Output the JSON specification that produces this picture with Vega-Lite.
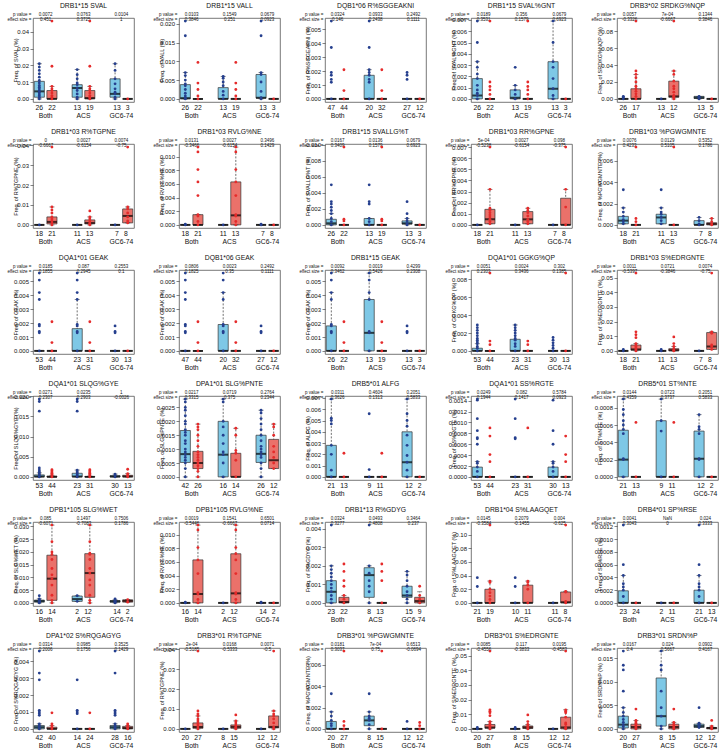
{
"$schema":"https://vega.github.io/schema/vega-lite/v6.json",
"padding":{"left":6,"top":2,"right":2,"bottom":2},
"background":"white",
"datasets":{
"g":[
{"k":11,"i":1,"t":"DRB1*15 SVAL","x":"1|Both|26|22|0.0072|0.451"},{"k":12,"i":1,"t":"DRB1*15 SVAL","x":"2|ACS|13|19|0.0763|0.3725"},{"k":13,"i":1,"t":"DRB1*15 SVAL","x":"3|GC6-74|13|3|0.0104|1"},
{"k":21,"i":2,"t":"DRB1*15 VALL","x":"1|Both|26|22|0.0103|0.3846"},{"k":22,"i":2,"t":"DRB1*15 VALL","x":"2|ACS|13|19|0.1549|0.251"},{"k":23,"i":2,"t":"DRB1*15 VALL","x":"3|GC6-74|13|3|0.0679|0.0923"},
{"k":31,"i":3,"t":"DQB1*06 R%SGGEAKNI","x":"1|Both|47|44|0.0324|0.146"},{"k":32,"i":3,"t":"DQB1*06 R%SGGEAKNI","x":"2|ACS|20|32|0.0933|0.2438"},{"k":33,"i":3,"t":"DQB1*06 R%SGGEAKNI","x":"3|GC6-74|27|12|0.2492|0.1111"},
{"k":41,"i":4,"t":"DRB1*15 SVAL%GNT","x":"1|Both|26|22|0.0189|0.3531"},{"k":42,"i":4,"t":"DRB1*15 SVAL%GNT","x":"2|ACS|13|19|0.356|0.1579"},{"k":43,"i":4,"t":"DRB1*15 SVAL%GNT","x":"3|GC6-74|13|3|0.0679|0.6923"},
{"k":51,"i":5,"t":"DRB3*02 SRDKG%NQP","x":"1|Both|26|17|0.0057|-0.3326"},{"k":52,"i":5,"t":"DRB3*02 SRDKG%NQP","x":"2|ACS|13|12|7e-04|-0.6667"},{"k":53,"i":5,"t":"DRB3*02 SRDKG%NQP","x":"3|GC6-74|13|5|0.1344|0.3846"},
{"k":61,"i":6,"t":"DRB1*03 R%TGPNE","x":"1|Both|18|21|0|-0.6667"},{"k":62,"i":6,"t":"DRB1*03 R%TGPNE","x":"2|ACS|11|13|0.0027|-0.6154"},{"k":63,"i":6,"t":"DRB1*03 R%TGPNE","x":"3|GC6-74|7|8|0.0074|-0.75"},
{"k":71,"i":7,"t":"DRB1*03 RVLG%NE","x":"1|Both|18|21|0.0131|-0.3466"},{"k":72,"i":7,"t":"DRB1*03 RVLG%NE","x":"2|ACS|11|13|0.0027|-0.6154"},{"k":73,"i":7,"t":"DRB1*03 RVLG%NE","x":"3|GC6-74|7|8|0.3496|0.1429"},
{"k":81,"i":8,"t":"DRB1*15 SVALLG%T","x":"1|Both|26|22|0.0167|0.3409"},{"k":82,"i":8,"t":"DRB1*15 SVALLG%T","x":"2|ACS|13|19|0.0136|0.1579"},{"k":83,"i":8,"t":"DRB1*15 SVALLG%T","x":"3|GC6-74|13|3|0.0679|0.6923"},
{"k":91,"i":9,"t":"DRB1*03 RR%GPNE","x":"1|Both|18|21|5e-04|-0.5238"},{"k":92,"i":9,"t":"DRB1*03 RR%GPNE","x":"2|ACS|11|13|0.0027|-0.6154"},{"k":93,"i":9,"t":"DRB1*03 RR%GPNE","x":"3|GC6-74|7|8|0.098|-0.375"},
{"k":101,"i":10,"t":"DRB1*03 %PGWGMNTE","x":"1|Both|18|21|0.0076|0.4233"},{"k":102,"i":10,"t":"DRB1*03 %PGWGMNTE","x":"2|ACS|11|13|0.0129|0.5105"},{"k":103,"i":10,"t":"DRB1*03 %PGWGMNTE","x":"3|GC6-74|7|8|0.5352|0.1786"},
{"k":111,"i":11,"t":"DQA1*01 GEAK","x":"1|Both|53|44|0.0185|0.1855"},{"k":112,"i":11,"t":"DQA1*01 GEAK","x":"2|ACS|23|31|0.087|0.2945"},{"k":113,"i":11,"t":"DQA1*01 GEAK","x":"3|GC6-74|30|13|0.2553|0.1"},
{"k":121,"i":12,"t":"DQB1*06 GEAK","x":"1|Both|47|44|0.0806|0.1825"},{"k":122,"i":12,"t":"DQB1*06 GEAK","x":"2|ACS|20|32|0.0023|0.35"},{"k":123,"i":12,"t":"DQB1*06 GEAK","x":"3|GC6-74|27|12|0.2492|0.1111"},
{"k":131,"i":13,"t":"DRB1*15 GEAK","x":"1|Both|26|22|0.0092|0.3462"},{"k":132,"i":13,"t":"DRB1*15 GEAK","x":"2|ACS|13|19|0.0019|0.5426"},{"k":133,"i":13,"t":"DRB1*15 GEAK","x":"3|GC6-74|13|3|0.4299|0.2308"},
{"k":141,"i":14,"t":"DQA1*01 GGKG%QP","x":"1|Both|53|44|0.0051|0.2303"},{"k":142,"i":14,"t":"DQA1*01 GGKG%QP","x":"2|ACS|23|31|0.0024|0.3436"},{"k":143,"i":14,"t":"DQA1*01 GGKG%QP","x":"3|GC6-74|30|13|0.302|0.1385"},
{"k":151,"i":15,"t":"DRB1*03 S%EDRGNTE","x":"1|Both|18|21|0.0011|-0.5397"},{"k":152,"i":15,"t":"DRB1*03 S%EDRGNTE","x":"2|ACS|11|13|0.0721|-0.3846"},{"k":153,"i":15,"t":"DRB1*03 S%EDRGNTE","x":"3|GC6-74|7|8|0.0074|-0.75"},
{"k":161,"i":16,"t":"DQA1*01 SLQG%GYE","x":"1|Both|53|44|0.0271|0.2307"},{"k":162,"i":16,"t":"DQA1*01 SLQG%GYE","x":"2|ACS|23|31|0.0235|0.2903"},{"k":163,"i":16,"t":"DQA1*01 SLQG%GYE","x":"3|GC6-74|30|13|1|-0.0026"},
{"k":171,"i":17,"t":"DPA1*01 SLG%PNTE","x":"1|Both|42|26|0.0217|0.3315"},{"k":172,"i":17,"t":"DPA1*01 SLG%PNTE","x":"2|ACS|16|14|0.0719|0.375"},{"k":173,"i":17,"t":"DPA1*01 SLG%PNTE","x":"3|GC6-74|26|12|0.2764|0.2344"},
{"k":181,"i":18,"t":"DRB5*01 ALFG","x":"1|Both|21|13|0.0311|0.3626"},{"k":182,"i":18,"t":"DRB5*01 ALFG","x":"2|ACS|9|11|0.4604|0.1313"},{"k":183,"i":18,"t":"DRB5*01 ALFG","x":"3|GC6-74|12|2|0.2051|0.5833"},
{"k":191,"i":19,"t":"DQA1*01 SS%RGTE","x":"1|Both|53|44|0.0249|0.1944"},{"k":192,"i":19,"t":"DQA1*01 SS%RGTE","x":"2|ACS|23|31|0.082|0.1417"},{"k":193,"i":19,"t":"DQA1*01 SS%RGTE","x":"3|GC6-74|30|13|0.5784|0.0923"},
{"k":201,"i":20,"t":"DRB5*01 ST%NTE","x":"1|Both|21|13|0.0144|0.4359"},{"k":202,"i":20,"t":"DRB5*01 ST%NTE","x":"2|ACS|9|11|0.0723|0.3737"},{"k":203,"i":20,"t":"DRB5*01 ST%NTE","x":"3|GC6-74|12|2|0.2051|0.5833"},
{"k":211,"i":21,"t":"DPB1*105 SLG%WET","x":"1|Both|16|14|0.085|-0.6071"},{"k":212,"i":21,"t":"DPB1*105 SLG%WET","x":"2|ACS|2|12|0.1497|-0.7083"},{"k":213,"i":21,"t":"DPB1*105 SLG%WET","x":"3|GC6-74|14|2|0.7506|0.1786"},
{"k":221,"i":22,"t":"DPB1*105 RVLG%NE","x":"1|Both|16|14|0.0019|-0.5446"},{"k":222,"i":22,"t":"DPB1*105 RVLG%NE","x":"2|ACS|2|12|0.1541|-0.6667"},{"k":223,"i":22,"t":"DPB1*105 RVLG%NE","x":"3|GC6-74|14|2|0.6501|0.0714"},
{"k":231,"i":23,"t":"DRB1*13 R%GDYG","x":"1|Both|23|22|0.0324|0.3277"},{"k":232,"i":23,"t":"DRB1*13 R%GDYG","x":"2|ACS|8|13|0.0493|0.4808"},{"k":233,"i":23,"t":"DRB1*13 R%GDYG","x":"3|GC6-74|15|9|0.3464|0.237"},
{"k":241,"i":24,"t":"DRB1*04 S%LAAGQET","x":"1|Both|21|19|0.0145|-0.3584"},{"k":242,"i":24,"t":"DRB1*04 S%LAAGQET","x":"2|ACS|10|11|0.2079|-0.1455"},{"k":243,"i":24,"t":"DRB1*04 S%LAAGQET","x":"3|GC6-74|11|8|0.004|-0.625"},
{"k":251,"i":25,"t":"DRB4*01 SP%RSE","x":"1|Both|23|24|0.0041|0.3043"},{"k":252,"i":25,"t":"DRB4*01 SP%RSE","x":"2|ACS|2|11|NaN|0"},{"k":253,"i":25,"t":"DRB4*01 SP%RSE","x":"3|GC6-74|21|13|0.024|0.3333"},
{"k":261,"i":26,"t":"DPA1*02 S%RQGAGYG","x":"1|Both|42|40|0.0314|0.2006"},{"k":262,"i":26,"t":"DPA1*02 S%RQGAGYG","x":"2|ACS|14|24|0.0985|0.1756"},{"k":263,"i":26,"t":"DPA1*02 S%RQGAGYG","x":"3|GC6-74|28|16|0.3525|0.1429"},
{"k":271,"i":27,"t":"DRB3*01 R%TGPNE","x":"1|Both|20|27|2e-04|-0.5185"},{"k":272,"i":27,"t":"DRB3*01 R%TGPNE","x":"2|ACS|8|15|0.0168|-0.5333"},{"k":273,"i":27,"t":"DRB3*01 R%TGPNE","x":"3|GC6-74|12|12|0.0071|-0.5"},
{"k":281,"i":28,"t":"DRB3*01 %PGWGMNTE","x":"1|Both|20|27|0.0181|0.3037"},{"k":282,"i":28,"t":"DRB3*01 %PGWGMNTE","x":"2|ACS|8|15|7e-04|0.75"},{"k":283,"i":28,"t":"DRB3*01 %PGWGMNTE","x":"3|GC6-74|12|12|0.6513|-0.0694"},
{"k":291,"i":29,"t":"DRB3*01 S%EDRGNTE","x":"1|Both|20|27|0.0085|-0.4556"},{"k":292,"i":29,"t":"DRB3*01 S%EDRGNTE","x":"2|ACS|8|15|0.117|-0.3833"},{"k":293,"i":29,"t":"DRB3*01 S%EDRGNTE","x":"3|GC6-74|12|12|0.0195|-0.4583"},
{"k":301,"i":30,"t":"DRB3*01 SRDN%P","x":"1|Both|20|27|0.0167|0.4"},{"k":302,"i":30,"t":"DRB3*01 SRDN%P","x":"2|ACS|8|15|0.024|0.5667"},{"k":303,"i":30,"t":"DRB3*01 SRDN%P","x":"3|GC6-74|12|12|0.0902|0.4167"}
],
"d":[
{"k":11,"c":"B","lo":0,"q1":0.001,"m":0.0045,"q3":0.0105,"hi":0.021},{"k":11,"c":"R","lo":0,"q1":0,"m":0,"q3":0.005,"hi":0.0075},
{"k":12,"c":"B","lo":0,"q1":0.001,"m":0.0065,"q3":0.0085,"hi":0.0175},{"k":12,"c":"R","lo":0,"q1":0,"m":0.0005,"q3":0.005,"hi":0.0075},
{"k":13,"c":"B","lo":0,"q1":0.001,"m":0.003,"q3":0.012,"hi":0.021},{"k":13,"c":"R","lo":0,"q1":0,"m":0,"q3":0,"hi":0},
{"k":21,"c":"B","lo":0,"q1":0,"m":0.0002,"q3":0.0038,"hi":0.007},{"k":21,"c":"R","lo":0,"q1":0,"m":0,"q3":0,"hi":0},
{"k":22,"c":"B","lo":0,"q1":0,"m":0,"q3":0.003,"hi":0.006},{"k":22,"c":"R","lo":0,"q1":0,"m":0,"q3":0,"hi":0},
{"k":23,"c":"B","lo":0,"q1":0.0002,"m":0.0003,"q3":0.0065,"hi":0.007},{"k":23,"c":"R","lo":0,"q1":0,"m":0,"q3":0,"hi":0},
{"k":31,"c":"B","lo":0,"q1":0,"m":0,"q3":0,"hi":0},{"k":31,"c":"R","lo":0,"q1":0,"m":0,"q3":0,"hi":0},
{"k":32,"c":"B","lo":0,"q1":0,"m":0,"q3":0.0017,"hi":0.0021},{"k":32,"c":"R","lo":0,"q1":0,"m":0,"q3":0,"hi":0},
{"k":33,"c":"B","lo":0,"q1":0,"m":0,"q3":0,"hi":0},{"k":33,"c":"R","lo":0,"q1":0,"m":0,"q3":0,"hi":0},
{"k":41,"c":"B","lo":0,"q1":0,"m":0.0003,"q3":0.0018,"hi":0.0033},{"k":41,"c":"R","lo":0,"q1":0,"m":0,"q3":0,"hi":0},
{"k":42,"c":"B","lo":0,"q1":0,"m":0.0001,"q3":0.0008,"hi":0.0012},{"k":42,"c":"R","lo":0,"q1":0,"m":0,"q3":0,"hi":0},
{"k":43,"c":"B","lo":0,"q1":0,"m":0.0009,"q3":0.0033,"hi":0.0069},{"k":43,"c":"R","lo":0,"q1":0,"m":0,"q3":0,"hi":0},
{"k":51,"c":"B","lo":0,"q1":0,"m":0,"q3":0,"hi":0},{"k":51,"c":"R","lo":0,"q1":0,"m":0,"q3":0.012,"hi":0.029},
{"k":52,"c":"B","lo":0,"q1":0,"m":0,"q3":0,"hi":0},{"k":52,"c":"R","lo":0,"q1":0.002,"m":0.003,"q3":0.021,"hi":0.033},
{"k":53,"c":"B","lo":0,"q1":0.0005,"m":0.0015,"q3":0.003,"hi":0.003},{"k":53,"c":"R","lo":0,"q1":0,"m":0,"q3":0,"hi":0},
{"k":61,"c":"B","lo":0,"q1":0,"m":0,"q3":0,"hi":0},{"k":61,"c":"R","lo":0,"q1":0.0005,"m":0.0015,"q3":0.004,"hi":0.009},
{"k":62,"c":"B","lo":0,"q1":0,"m":0,"q3":0,"hi":0},{"k":62,"c":"R","lo":0,"q1":0.0005,"m":0.001,"q3":0.0025,"hi":0.004},
{"k":63,"c":"B","lo":0,"q1":0,"m":0,"q3":0,"hi":0},{"k":63,"c":"R","lo":0.001,"q1":0.001,"m":0.0045,"q3":0.008,"hi":0.009},
{"k":71,"c":"B","lo":0,"q1":0,"m":0,"q3":0,"hi":0},{"k":71,"c":"R","lo":0,"q1":0,"m":0,"q3":0.0015,"hi":0.0015},
{"k":72,"c":"B","lo":0,"q1":0,"m":0,"q3":0,"hi":0},{"k":72,"c":"R","lo":0,"q1":0,"m":0.0014,"q3":0.0063,"hi":0.0114},
{"k":73,"c":"B","lo":0,"q1":0,"m":0,"q3":0,"hi":0},{"k":73,"c":"R","lo":0,"q1":0,"m":0,"q3":0,"hi":0},
{"k":81,"c":"B","lo":0,"q1":0,"m":0.0002,"q3":0.0007,"hi":0.0014},{"k":81,"c":"R","lo":0,"q1":0,"m":0,"q3":0,"hi":0},
{"k":82,"c":"B","lo":0,"q1":0,"m":0,"q3":0.0008,"hi":0.0008},{"k":82,"c":"R","lo":0,"q1":0,"m":0,"q3":0,"hi":0},
{"k":83,"c":"B","lo":0,"q1":0.0001,"m":0.0002,"q3":0.0005,"hi":0.0008},{"k":83,"c":"R","lo":0,"q1":0,"m":0,"q3":0,"hi":0},
{"k":91,"c":"B","lo":0,"q1":0,"m":0,"q3":0,"hi":0},{"k":91,"c":"R","lo":0.0001,"q1":0.0001,"m":0.0005,"q3":0.0014,"hi":0.0032},
{"k":92,"c":"B","lo":0,"q1":0,"m":0,"q3":0,"hi":0},{"k":92,"c":"R","lo":0.0001,"q1":0.0001,"m":0.0005,"q3":0.0012,"hi":0.0015},
{"k":93,"c":"B","lo":0,"q1":0,"m":0,"q3":0,"hi":0},{"k":93,"c":"R","lo":0,"q1":0,"m":0,"q3":0.0024,"hi":0.0032},
{"k":101,"c":"B","lo":0.0001,"q1":0.0001,"m":0.0004,"q3":0.0008,"hi":0.0016},{"k":101,"c":"R","lo":0,"q1":0,"m":0,"q3":0,"hi":0},
{"k":102,"c":"B","lo":0.0001,"q1":0.0001,"m":0.0007,"q3":0.001,"hi":0.0016},{"k":102,"c":"R","lo":0,"q1":0,"m":0,"q3":0,"hi":0},
{"k":103,"c":"B","lo":0,"q1":0,"m":0,"q3":0.0004,"hi":0.0007},{"k":103,"c":"R","lo":0,"q1":0,"m":0.0001,"q3":0.0002,"hi":0.0006},
{"k":111,"c":"B","lo":0,"q1":0,"m":0,"q3":0,"hi":0},{"k":111,"c":"R","lo":0,"q1":0,"m":0,"q3":0,"hi":0},
{"k":112,"c":"B","lo":0,"q1":0,"m":0,"q3":0.0016,"hi":0.0037},{"k":112,"c":"R","lo":0,"q1":0,"m":0,"q3":0,"hi":0},
{"k":113,"c":"B","lo":0,"q1":0,"m":0,"q3":0,"hi":0},{"k":113,"c":"R","lo":0,"q1":0,"m":0,"q3":0,"hi":0},
{"k":121,"c":"B","lo":0,"q1":0,"m":0,"q3":0,"hi":0},{"k":121,"c":"R","lo":0,"q1":0,"m":0,"q3":0,"hi":0},
{"k":122,"c":"B","lo":0,"q1":0,"m":0,"q3":0.0019,"hi":0.0042},{"k":122,"c":"R","lo":0,"q1":0,"m":0,"q3":0,"hi":0},
{"k":123,"c":"B","lo":0,"q1":0,"m":0,"q3":0,"hi":0},{"k":123,"c":"R","lo":0,"q1":0,"m":0,"q3":0,"hi":0},
{"k":131,"c":"B","lo":0,"q1":0,"m":0,"q3":0.0018,"hi":0.0042},{"k":131,"c":"R","lo":0,"q1":0,"m":0,"q3":0,"hi":0},
{"k":132,"c":"B","lo":0,"q1":0,"m":0.0013,"q3":0.0037,"hi":0.0056},{"k":132,"c":"R","lo":0,"q1":0,"m":0,"q3":0,"hi":0},
{"k":133,"c":"B","lo":0,"q1":0,"m":0,"q3":0,"hi":0},{"k":133,"c":"R","lo":0,"q1":0,"m":0,"q3":0,"hi":0},
{"k":141,"c":"B","lo":0,"q1":0,"m":0,"q3":0.0003,"hi":0.0008},{"k":141,"c":"R","lo":0,"q1":0,"m":0,"q3":0,"hi":0},
{"k":142,"c":"B","lo":0,"q1":0,"m":0,"q3":0.0013,"hi":0.0029},{"k":142,"c":"R","lo":0,"q1":0,"m":0,"q3":0,"hi":0},
{"k":143,"c":"B","lo":0,"q1":0,"m":0,"q3":0,"hi":0},{"k":143,"c":"R","lo":0,"q1":0,"m":0,"q3":0,"hi":0},
{"k":151,"c":"B","lo":0,"q1":0,"m":0,"q3":0,"hi":0},{"k":151,"c":"R","lo":0,"q1":0.0005,"m":0.001,"q3":0.004,"hi":0.005},
{"k":152,"c":"B","lo":0,"q1":0,"m":0,"q3":0,"hi":0},{"k":152,"c":"R","lo":0,"q1":0,"m":0.0005,"q3":0.0015,"hi":0.003},
{"k":153,"c":"B","lo":0,"q1":0,"m":0,"q3":0,"hi":0},{"k":153,"c":"R","lo":0.001,"q1":0.001,"m":0.003,"q3":0.0125,"hi":0.013},
{"k":161,"c":"B","lo":0,"q1":0,"m":0.0001,"q3":0.0005,"hi":0.001},{"k":161,"c":"R","lo":0,"q1":0,"m":0,"q3":0.0002,"hi":0.0004},
{"k":162,"c":"B","lo":0,"q1":0,"m":0.0001,"q3":0.0009,"hi":0.0017},{"k":162,"c":"R","lo":0,"q1":0,"m":0,"q3":0.0001,"hi":0.0002},
{"k":163,"c":"B","lo":0,"q1":0,"m":0.0001,"q3":0.0003,"hi":0.0007},{"k":163,"c":"R","lo":0,"q1":0,"m":0.0001,"q3":0.0004,"hi":0.0008},
{"k":171,"c":"B","lo":0,"q1":0.00052,"m":0.00082,"q3":0.00167,"hi":0.0028},{"k":171,"c":"R","lo":0,"q1":0.0003,"m":0.0005,"q3":0.00092,"hi":0.0019},
{"k":172,"c":"B","lo":0,"q1":0,"m":0.0008,"q3":0.002,"hi":0.0028},{"k":172,"c":"R","lo":0,"q1":0,"m":0,"q3":0.00085,"hi":0.00175},
{"k":173,"c":"B","lo":0,"q1":0.00052,"m":0.00083,"q3":0.0015,"hi":0.0024},{"k":173,"c":"R","lo":0.0003,"q1":0.0003,"m":0.0006,"q3":0.00135,"hi":0.0019},
{"k":181,"c":"B","lo":0,"q1":0,"m":0,"q3":0.0028,"hi":0.0069},{"k":181,"c":"R","lo":0,"q1":0,"m":0,"q3":0,"hi":0},
{"k":182,"c":"B","lo":0,"q1":0,"m":0,"q3":0,"hi":0},{"k":182,"c":"R","lo":0,"q1":0,"m":0,"q3":0,"hi":0},
{"k":183,"c":"B","lo":0,"q1":0,"m":0.0013,"q3":0.004,"hi":0.0069},{"k":183,"c":"R","lo":0,"q1":0,"m":0,"q3":0,"hi":0},
{"k":191,"c":"B","lo":0,"q1":0,"m":0,"q3":0.00018,"hi":0.00028},{"k":191,"c":"R","lo":0,"q1":0,"m":0,"q3":0,"hi":0},
{"k":192,"c":"B","lo":0,"q1":0,"m":0,"q3":0,"hi":0},{"k":192,"c":"R","lo":0,"q1":0,"m":0,"q3":0,"hi":0},
{"k":193,"c":"B","lo":0,"q1":0,"m":0,"q3":0.00018,"hi":0.00028},{"k":193,"c":"R","lo":0,"q1":0,"m":0,"q3":0,"hi":0},
{"k":201,"c":"B","lo":0,"q1":0,"m":0.0002,"q3":0.00054,"hi":0.0009},{"k":201,"c":"R","lo":0,"q1":0,"m":0,"q3":0,"hi":0},
{"k":202,"c":"B","lo":0,"q1":0,"m":0,"q3":0.00065,"hi":0.0009},{"k":202,"c":"R","lo":0,"q1":0,"m":0,"q3":0,"hi":0},
{"k":203,"c":"B","lo":0,"q1":0,"m":0.00021,"q3":0.00053,"hi":0.00072},{"k":203,"c":"R","lo":0,"q1":0,"m":0,"q3":0,"hi":0},
{"k":211,"c":"B","lo":0,"q1":0.0003,"m":0.0007,"q3":0.0011,"hi":0.0016},{"k":211,"c":"R","lo":0,"q1":0.001,"m":0.0095,"q3":0.0187,"hi":0.0305},
{"k":212,"c":"B","lo":0.0006,"q1":0.0006,"m":0.0015,"q3":0.0027,"hi":0.0028},{"k":212,"c":"R","lo":0,"q1":0.0022,"m":0.0117,"q3":0.0193,"hi":0.0305},
{"k":213,"c":"B","lo":0,"q1":0.0003,"m":0.0006,"q3":0.0009,"hi":0.0012},{"k":213,"c":"R","lo":0.0003,"q1":0.0003,"m":0.0008,"q3":0.0012,"hi":0.0013},
{"k":221,"c":"B","lo":0,"q1":0,"m":0,"q3":0,"hi":0},{"k":221,"c":"R","lo":0,"q1":0,"m":0.0013,"q3":0.0063,"hi":0.0114},
{"k":222,"c":"B","lo":0,"q1":0,"m":0,"q3":0,"hi":0},{"k":222,"c":"R","lo":0,"q1":0,"m":0.0014,"q3":0.0072,"hi":0.0114},
{"k":223,"c":"B","lo":0,"q1":0,"m":0,"q3":0,"hi":0},{"k":223,"c":"R","lo":0,"q1":0,"m":0,"q3":0,"hi":0},
{"k":231,"c":"B","lo":0,"q1":0,"m":0.0006,"q3":0.0012,"hi":0.002},{"k":231,"c":"R","lo":0,"q1":0,"m":0.00005,"q3":0.0003,"hi":0.0004},
{"k":232,"c":"B","lo":0,"q1":0.0003,"m":0.0015,"q3":0.0019,"hi":0.002},{"k":232,"c":"R","lo":0,"q1":0,"m":0,"q3":0,"hi":0},
{"k":233,"c":"B","lo":0,"q1":0.0003,"m":0.0004,"q3":0.0009,"hi":0.0017},{"k":233,"c":"R","lo":0,"q1":0,"m":0.0001,"q3":0.0003,"hi":0.0006},
{"k":241,"c":"B","lo":0,"q1":0,"m":0,"q3":0,"hi":0},{"k":241,"c":"R","lo":0,"q1":0,"m":0,"q3":0.02,"hi":0.032},
{"k":242,"c":"B","lo":0,"q1":0,"m":0,"q3":0,"hi":0},{"k":242,"c":"R","lo":0,"q1":0,"m":0,"q3":0.026,"hi":0.032},
{"k":243,"c":"B","lo":0,"q1":0,"m":0,"q3":0,"hi":0},{"k":243,"c":"R","lo":0,"q1":0,"m":0.001,"q3":0.016,"hi":0.017},
{"k":251,"c":"B","lo":0,"q1":0,"m":0,"q3":0.00019,"hi":0.00043},{"k":251,"c":"R","lo":0,"q1":0,"m":0,"q3":0,"hi":0},
{"k":252,"c":"B","lo":0,"q1":0,"m":0,"q3":0,"hi":0},{"k":252,"c":"R","lo":0,"q1":0,"m":0,"q3":0,"hi":0},
{"k":253,"c":"B","lo":0,"q1":0,"m":0,"q3":0.0002,"hi":0.00043},{"k":253,"c":"R","lo":0,"q1":0,"m":0,"q3":0,"hi":0},
{"k":261,"c":"B","lo":0,"q1":0,"m":0.0001,"q3":0.0002,"hi":0.0003},{"k":261,"c":"R","lo":0,"q1":0,"m":0,"q3":0.0001,"hi":0.0002},
{"k":262,"c":"B","lo":0,"q1":0,"m":0,"q3":0,"hi":0},{"k":262,"c":"R","lo":0,"q1":0,"m":0,"q3":0,"hi":0},
{"k":263,"c":"B","lo":0,"q1":0,"m":0.0001,"q3":0.0002,"hi":0.0003},{"k":263,"c":"R","lo":0,"q1":0,"m":0.00005,"q3":0.00015,"hi":0.0002},
{"k":271,"c":"B","lo":0,"q1":0,"m":0,"q3":0,"hi":0},{"k":271,"c":"R","lo":0,"q1":0.0003,"m":0.001,"q3":0.003,"hi":0.0065},
{"k":272,"c":"B","lo":0,"q1":0,"m":0,"q3":0,"hi":0},{"k":272,"c":"R","lo":0,"q1":0.0003,"m":0.001,"q3":0.002,"hi":0.004},
{"k":273,"c":"B","lo":0,"q1":0,"m":0,"q3":0,"hi":0},{"k":273,"c":"R","lo":0,"q1":0.0005,"m":0.001,"q3":0.0065,"hi":0.009},
{"k":281,"c":"B","lo":0,"q1":0,"m":0,"q3":0.0007,"hi":0.0016},{"k":281,"c":"R","lo":0,"q1":0,"m":0,"q3":0,"hi":0},
{"k":282,"c":"B","lo":0,"q1":0.0003,"m":0.0008,"q3":0.0012,"hi":0.0016},{"k":282,"c":"R","lo":0,"q1":0,"m":0,"q3":0,"hi":0},
{"k":283,"c":"B","lo":0,"q1":0,"m":0,"q3":0,"hi":0},{"k":283,"c":"R","lo":0,"q1":0,"m":0,"q3":0,"hi":0},
{"k":291,"c":"B","lo":0,"q1":0,"m":0,"q3":0,"hi":0},{"k":291,"c":"R","lo":0,"q1":0.0005,"m":0.001,"q3":0.003,"hi":0.005},
{"k":292,"c":"B","lo":0,"q1":0,"m":0,"q3":0,"hi":0},{"k":292,"c":"R","lo":0,"q1":0.0003,"m":0.001,"q3":0.002,"hi":0.003},
{"k":293,"c":"B","lo":0,"q1":0,"m":0,"q3":0,"hi":0},{"k":293,"c":"R","lo":0,"q1":0,"m":0.001,"q3":0.008,"hi":0.013},
{"k":301,"c":"B","lo":0,"q1":0.0002,"m":0.0009,"q3":0.0027,"hi":0.0045},{"k":301,"c":"R","lo":0,"q1":0,"m":0.0004,"q3":0.001,"hi":0.0018},
{"k":302,"c":"B","lo":0,"q1":0.0006,"m":0.0027,"q3":0.0108,"hi":0.0165},{"k":302,"c":"R","lo":0,"q1":0,"m":0.0004,"q3":0.001,"hi":0.0014},
{"k":303,"c":"B","lo":0.0003,"q1":0.0003,"m":0.0006,"q3":0.001,"hi":0.0012},{"k":303,"c":"R","lo":0,"q1":0,"m":0.0002,"q3":0.0003,"hi":0.0006},

{"k":11,"c":"B","v":0.021},{"k":11,"c":"B","v":0.019},{"k":11,"c":"B","v":0.017},{"k":11,"c":"B","v":0.015},{"k":11,"c":"B","v":0.013},{"k":11,"c":"B","v":0.011},{"k":11,"c":"B","v":0.0095},{"k":11,"c":"B","v":0.008},{"k":11,"c":"B","v":0.007},{"k":11,"c":"B","v":0.006},{"k":11,"c":"B","v":0.005},{"k":11,"c":"B","v":0.004},{"k":11,"c":"B","v":0.003},{"k":11,"c":"B","v":0.002},{"k":11,"c":"B","v":0.001},{"k":11,"c":"B","v":0},
{"k":11,"c":"R","v":0.0465},{"k":11,"c":"R","v":0.0195},{"k":11,"c":"R","v":0.0075},{"k":11,"c":"R","v":0.006},{"k":11,"c":"R","v":0.005},{"k":11,"c":"R","v":0.0035},{"k":11,"c":"R","v":0.002},{"k":11,"c":"R","v":0.001},{"k":11,"c":"R","v":0},
{"k":12,"c":"B","v":0.0175},{"k":12,"c":"B","v":0.0145},{"k":12,"c":"B","v":0.012},{"k":12,"c":"B","v":0.0095},{"k":12,"c":"B","v":0.0085},{"k":12,"c":"B","v":0.0065},{"k":12,"c":"B","v":0.005},{"k":12,"c":"B","v":0.003},{"k":12,"c":"B","v":0.001},{"k":12,"c":"B","v":0},
{"k":12,"c":"R","v":0.0465},{"k":12,"c":"R","v":0.0195},{"k":12,"c":"R","v":0.0075},{"k":12,"c":"R","v":0.006},{"k":12,"c":"R","v":0.005},{"k":12,"c":"R","v":0.0035},{"k":12,"c":"R","v":0.002},{"k":12,"c":"R","v":0.001},{"k":12,"c":"R","v":0},
{"k":13,"c":"B","v":0.021},{"k":13,"c":"B","v":0.017},{"k":13,"c":"B","v":0.012},{"k":13,"c":"B","v":0.009},{"k":13,"c":"B","v":0.006},{"k":13,"c":"B","v":0.004},{"k":13,"c":"B","v":0.003},{"k":13,"c":"B","v":0.001},{"k":13,"c":"B","v":0},{"k":13,"c":"R","v":0},
{"k":21,"c":"B","v":0.0207},{"k":21,"c":"B","v":0.0168},{"k":21,"c":"B","v":0.007},{"k":21,"c":"B","v":0.0062},{"k":21,"c":"B","v":0.005},{"k":21,"c":"B","v":0.004},{"k":21,"c":"B","v":0.0035},{"k":21,"c":"B","v":0.0025},{"k":21,"c":"B","v":0.0015},{"k":21,"c":"B","v":0.0008},{"k":21,"c":"B","v":0.0002},{"k":21,"c":"B","v":0},
{"k":21,"c":"R","v":0.0097},{"k":21,"c":"R","v":0.0042},{"k":21,"c":"R","v":0.0025},{"k":21,"c":"R","v":0.0008},{"k":21,"c":"R","v":0},
{"k":22,"c":"B","v":0.006},{"k":22,"c":"B","v":0.0055},{"k":22,"c":"B","v":0.0045},{"k":22,"c":"B","v":0.0035},{"k":22,"c":"B","v":0.002},{"k":22,"c":"B","v":0.001},{"k":22,"c":"B","v":0},
{"k":22,"c":"R","v":0.0097},{"k":22,"c":"R","v":0.0042},{"k":22,"c":"R","v":0.0025},{"k":22,"c":"R","v":0.0008},{"k":22,"c":"R","v":0},
{"k":23,"c":"B","v":0.0207},{"k":23,"c":"B","v":0.0168},{"k":23,"c":"B","v":0.007},{"k":23,"c":"B","v":0.0065},{"k":23,"c":"B","v":0.0045},{"k":23,"c":"B","v":0.002},{"k":23,"c":"B","v":0.0003},{"k":23,"c":"B","v":0},{"k":23,"c":"R","v":0},
{"k":31,"c":"B","v":0.0056},{"k":31,"c":"B","v":0.0037},{"k":31,"c":"B","v":0.0019},{"k":31,"c":"B","v":0.0017},{"k":31,"c":"B","v":0.0014},{"k":31,"c":"B","v":0.0012},{"k":31,"c":"B","v":0},
{"k":31,"c":"R","v":0.0021},{"k":31,"c":"R","v":0.0006},{"k":31,"c":"R","v":0},
{"k":32,"c":"B","v":0.0056},{"k":32,"c":"B","v":0.0037},{"k":32,"c":"B","v":0.0021},{"k":32,"c":"B","v":0.0019},{"k":32,"c":"B","v":0.0017},{"k":32,"c":"B","v":0.0014},{"k":32,"c":"B","v":0.0012},{"k":32,"c":"B","v":0},
{"k":32,"c":"R","v":0.0021},{"k":32,"c":"R","v":0.0006},{"k":32,"c":"R","v":0},
{"k":33,"c":"B","v":0.0019},{"k":33,"c":"B","v":0.0017},{"k":33,"c":"B","v":0.0014},{"k":33,"c":"B","v":0},{"k":33,"c":"R","v":0},
{"k":41,"c":"B","v":0.0069},{"k":41,"c":"B","v":0.005},{"k":41,"c":"B","v":0.0033},{"k":41,"c":"B","v":0.0028},{"k":41,"c":"B","v":0.0022},{"k":41,"c":"B","v":0.0018},{"k":41,"c":"B","v":0.0012},{"k":41,"c":"B","v":0.0008},{"k":41,"c":"B","v":0.0005},{"k":41,"c":"B","v":0.0003},{"k":41,"c":"B","v":0},
{"k":41,"c":"R","v":0.0069},{"k":41,"c":"R","v":0.0015},{"k":41,"c":"R","v":0.0011},{"k":41,"c":"R","v":0.0008},{"k":41,"c":"R","v":0.0004},{"k":41,"c":"R","v":0},
{"k":42,"c":"B","v":0.0028},{"k":42,"c":"B","v":0.0012},{"k":42,"c":"B","v":0.0008},{"k":42,"c":"B","v":0.0004},{"k":42,"c":"B","v":0},
{"k":42,"c":"R","v":0.0069},{"k":42,"c":"R","v":0.0015},{"k":42,"c":"R","v":0.0011},{"k":42,"c":"R","v":0.0008},{"k":42,"c":"R","v":0.0004},{"k":42,"c":"R","v":0},
{"k":43,"c":"B","v":0.0069},{"k":43,"c":"B","v":0.005},{"k":43,"c":"B","v":0.0033},{"k":43,"c":"B","v":0.0028},{"k":43,"c":"B","v":0.0018},{"k":43,"c":"B","v":0.0009},{"k":43,"c":"B","v":0.0003},{"k":43,"c":"B","v":0},{"k":43,"c":"R","v":0},
{"k":51,"c":"B","v":0.003},{"k":51,"c":"B","v":0.002},{"k":51,"c":"B","v":0},
{"k":51,"c":"R","v":0.092},{"k":51,"c":"R","v":0.033},{"k":51,"c":"R","v":0.029},{"k":51,"c":"R","v":0.025},{"k":51,"c":"R","v":0.02},{"k":51,"c":"R","v":0.015},{"k":51,"c":"R","v":0.012},{"k":51,"c":"R","v":0.009},{"k":51,"c":"R","v":0.006},{"k":51,"c":"R","v":0.003},{"k":51,"c":"R","v":0},
{"k":52,"c":"B","v":0},
{"k":52,"c":"R","v":0.092},{"k":52,"c":"R","v":0.033},{"k":52,"c":"R","v":0.029},{"k":52,"c":"R","v":0.021},{"k":52,"c":"R","v":0.015},{"k":52,"c":"R","v":0.012},{"k":52,"c":"R","v":0.008},{"k":52,"c":"R","v":0.004},{"k":52,"c":"R","v":0.003},{"k":52,"c":"R","v":0.002},{"k":52,"c":"R","v":0},
{"k":53,"c":"B","v":0.003},{"k":53,"c":"B","v":0.002},{"k":53,"c":"B","v":0.001},{"k":53,"c":"B","v":0},{"k":53,"c":"R","v":0},
{"k":61,"c":"B","v":0},
{"k":61,"c":"R","v":0.039},{"k":61,"c":"R","v":0.009},{"k":61,"c":"R","v":0.0075},{"k":61,"c":"R","v":0.006},{"k":61,"c":"R","v":0.004},{"k":61,"c":"R","v":0.003},{"k":61,"c":"R","v":0.002},{"k":61,"c":"R","v":0.001},{"k":61,"c":"R","v":0},
{"k":62,"c":"B","v":0},
{"k":62,"c":"R","v":0.007},{"k":62,"c":"R","v":0.004},{"k":62,"c":"R","v":0.003},{"k":62,"c":"R","v":0.002},{"k":62,"c":"R","v":0.001},{"k":62,"c":"R","v":0.0005},{"k":62,"c":"R","v":0},
{"k":63,"c":"B","v":0},
{"k":63,"c":"R","v":0.039},{"k":63,"c":"R","v":0.009},{"k":63,"c":"R","v":0.008},{"k":63,"c":"R","v":0.006},{"k":63,"c":"R","v":0.004},{"k":63,"c":"R","v":0.002},{"k":63,"c":"R","v":0.001},
{"k":71,"c":"B","v":0.0001},{"k":71,"c":"B","v":0},
{"k":71,"c":"R","v":0.0114},{"k":71,"c":"R","v":0.0107},{"k":71,"c":"R","v":0.0081},{"k":71,"c":"R","v":0.0063},{"k":71,"c":"R","v":0.0043},{"k":71,"c":"R","v":0.0015},{"k":71,"c":"R","v":0.0013},{"k":71,"c":"R","v":0.0005},{"k":71,"c":"R","v":0},
{"k":72,"c":"B","v":0},
{"k":72,"c":"R","v":0.0114},{"k":72,"c":"R","v":0.0107},{"k":72,"c":"R","v":0.0081},{"k":72,"c":"R","v":0.0063},{"k":72,"c":"R","v":0.0043},{"k":72,"c":"R","v":0.0015},{"k":72,"c":"R","v":0.0013},{"k":72,"c":"R","v":0.0005},{"k":72,"c":"R","v":0},
{"k":73,"c":"B","v":0.0001},{"k":73,"c":"B","v":0},{"k":73,"c":"R","v":0},
{"k":81,"c":"B","v":0.005},{"k":81,"c":"B","v":0.0029},{"k":81,"c":"B","v":0.0026},{"k":81,"c":"B","v":0.0022},{"k":81,"c":"B","v":0.0018},{"k":81,"c":"B","v":0.0014},{"k":81,"c":"B","v":0.0008},{"k":81,"c":"B","v":0.0004},{"k":81,"c":"B","v":0},
{"k":81,"c":"R","v":0.0097},{"k":81,"c":"R","v":0.0007},{"k":81,"c":"R","v":0.0005},{"k":81,"c":"R","v":0},
{"k":82,"c":"B","v":0.005},{"k":82,"c":"B","v":0.0029},{"k":82,"c":"B","v":0.0026},{"k":82,"c":"B","v":0.0008},{"k":82,"c":"B","v":0.0004},{"k":82,"c":"B","v":0},
{"k":82,"c":"R","v":0.0097},{"k":82,"c":"R","v":0.0007},{"k":82,"c":"R","v":0.0005},{"k":82,"c":"R","v":0},
{"k":83,"c":"B","v":0.0029},{"k":83,"c":"B","v":0.0014},{"k":83,"c":"B","v":0.0008},{"k":83,"c":"B","v":0.0005},{"k":83,"c":"B","v":0.0002},{"k":83,"c":"B","v":0},{"k":83,"c":"R","v":0},
{"k":91,"c":"B","v":0},
{"k":91,"c":"R","v":0.007},{"k":91,"c":"R","v":0.0032},{"k":91,"c":"R","v":0.0015},{"k":91,"c":"R","v":0.0013},{"k":91,"c":"R","v":0.0011},{"k":91,"c":"R","v":0.0009},{"k":91,"c":"R","v":0.0007},{"k":91,"c":"R","v":0.0005},{"k":91,"c":"R","v":0.0003},{"k":91,"c":"R","v":0.0001},
{"k":92,"c":"B","v":0},
{"k":92,"c":"R","v":0.0015},{"k":92,"c":"R","v":0.0013},{"k":92,"c":"R","v":0.0011},{"k":92,"c":"R","v":0.0008},{"k":92,"c":"R","v":0.0005},{"k":92,"c":"R","v":0.0003},{"k":92,"c":"R","v":0.0001},
{"k":93,"c":"B","v":0},
{"k":93,"c":"R","v":0.007},{"k":93,"c":"R","v":0.0032},{"k":93,"c":"R","v":0.0016},{"k":93,"c":"R","v":0},
{"k":101,"c":"B","v":0.0033},{"k":101,"c":"B","v":0.0016},{"k":101,"c":"B","v":0.0012},{"k":101,"c":"B","v":0.0008},{"k":101,"c":"B","v":0.0005},{"k":101,"c":"B","v":0.0003},{"k":101,"c":"B","v":0.0001},
{"k":101,"c":"R","v":0.0073},{"k":101,"c":"R","v":0.0006},{"k":101,"c":"R","v":0.0003},{"k":101,"c":"R","v":0},
{"k":102,"c":"B","v":0.0033},{"k":102,"c":"B","v":0.0016},{"k":102,"c":"B","v":0.0012},{"k":102,"c":"B","v":0.001},{"k":102,"c":"B","v":0.0007},{"k":102,"c":"B","v":0.0004},{"k":102,"c":"B","v":0.0001},
{"k":102,"c":"R","v":0.0073},{"k":102,"c":"R","v":0},
{"k":103,"c":"B","v":0.0007},{"k":103,"c":"B","v":0.0004},{"k":103,"c":"B","v":0.0001},{"k":103,"c":"B","v":0},
{"k":103,"c":"R","v":0.0006},{"k":103,"c":"R","v":0.0003},{"k":103,"c":"R","v":0.0001},{"k":103,"c":"R","v":0},
{"k":111,"c":"B","v":0.0056},{"k":111,"c":"B","v":0.0051},{"k":111,"c":"B","v":0.0042},{"k":111,"c":"B","v":0.0037},{"k":111,"c":"B","v":0.0019},{"k":111,"c":"B","v":0.0018},{"k":111,"c":"B","v":0.0014},{"k":111,"c":"B","v":0.0013},{"k":111,"c":"B","v":0},
{"k":111,"c":"R","v":0.0021},{"k":111,"c":"R","v":0.0006},{"k":111,"c":"R","v":0},
{"k":112,"c":"B","v":0.0056},{"k":112,"c":"B","v":0.0051},{"k":112,"c":"B","v":0.0042},{"k":112,"c":"B","v":0.0037},{"k":112,"c":"B","v":0.0019},{"k":112,"c":"B","v":0.0018},{"k":112,"c":"B","v":0.0014},{"k":112,"c":"B","v":0.0013},{"k":112,"c":"B","v":0},
{"k":112,"c":"R","v":0.0021},{"k":112,"c":"R","v":0.0006},{"k":112,"c":"R","v":0},
{"k":113,"c":"B","v":0.0018},{"k":113,"c":"B","v":0.0014},{"k":113,"c":"B","v":0.0013},{"k":113,"c":"B","v":0},{"k":113,"c":"R","v":0},
{"k":121,"c":"B","v":0.0056},{"k":121,"c":"B","v":0.0051},{"k":121,"c":"B","v":0.0042},{"k":121,"c":"B","v":0.0037},{"k":121,"c":"B","v":0.0019},{"k":121,"c":"B","v":0.0018},{"k":121,"c":"B","v":0.0014},{"k":121,"c":"B","v":0.0013},{"k":121,"c":"B","v":0},
{"k":121,"c":"R","v":0.0021},{"k":121,"c":"R","v":0.0006},{"k":121,"c":"R","v":0},
{"k":122,"c":"B","v":0.0056},{"k":122,"c":"B","v":0.0051},{"k":122,"c":"B","v":0.0042},{"k":122,"c":"B","v":0.0037},{"k":122,"c":"B","v":0.0019},{"k":122,"c":"B","v":0.0018},{"k":122,"c":"B","v":0.0014},{"k":122,"c":"B","v":0.0013},{"k":122,"c":"B","v":0},
{"k":122,"c":"R","v":0.0021},{"k":122,"c":"R","v":0.0006},{"k":122,"c":"R","v":0},
{"k":123,"c":"B","v":0.0018},{"k":123,"c":"B","v":0.0014},{"k":123,"c":"B","v":0.0013},{"k":123,"c":"B","v":0},{"k":123,"c":"R","v":0},
{"k":131,"c":"B","v":0.0056},{"k":131,"c":"B","v":0.0051},{"k":131,"c":"B","v":0.0042},{"k":131,"c":"B","v":0.0037},{"k":131,"c":"B","v":0.0019},{"k":131,"c":"B","v":0.0018},{"k":131,"c":"B","v":0.0014},{"k":131,"c":"B","v":0.0013},{"k":131,"c":"B","v":0},
{"k":131,"c":"R","v":0.0021},{"k":131,"c":"R","v":0.0006},{"k":131,"c":"R","v":0},
{"k":132,"c":"B","v":0.0056},{"k":132,"c":"B","v":0.0051},{"k":132,"c":"B","v":0.0042},{"k":132,"c":"B","v":0.0037},{"k":132,"c":"B","v":0.0014},{"k":132,"c":"B","v":0.0013},{"k":132,"c":"B","v":0},
{"k":132,"c":"R","v":0.0021},{"k":132,"c":"R","v":0.0006},{"k":132,"c":"R","v":0},
{"k":133,"c":"B","v":0.0018},{"k":133,"c":"B","v":0.0014},{"k":133,"c":"B","v":0.0013},{"k":133,"c":"B","v":0},{"k":133,"c":"R","v":0},
{"k":141,"c":"B","v":0.0029},{"k":141,"c":"B","v":0.0026},{"k":141,"c":"B","v":0.0023},{"k":141,"c":"B","v":0.002},{"k":141,"c":"B","v":0.0017},{"k":141,"c":"B","v":0.0014},{"k":141,"c":"B","v":0.0012},{"k":141,"c":"B","v":0.001},{"k":141,"c":"B","v":0.0008},{"k":141,"c":"B","v":0.0005},{"k":141,"c":"B","v":0.0003},{"k":141,"c":"B","v":0},
{"k":141,"c":"R","v":0.0087},{"k":141,"c":"R","v":0.0011},{"k":141,"c":"R","v":0.0007},{"k":141,"c":"R","v":0},
{"k":142,"c":"B","v":0.0029},{"k":142,"c":"B","v":0.0026},{"k":142,"c":"B","v":0.0023},{"k":142,"c":"B","v":0.002},{"k":142,"c":"B","v":0.0017},{"k":142,"c":"B","v":0.0014},{"k":142,"c":"B","v":0.0012},{"k":142,"c":"B","v":0.0008},{"k":142,"c":"B","v":0.0005},{"k":142,"c":"B","v":0},
{"k":142,"c":"R","v":0.0011},{"k":142,"c":"R","v":0.0007},{"k":142,"c":"R","v":0},
{"k":143,"c":"B","v":0.0015},{"k":143,"c":"B","v":0.0012},{"k":143,"c":"B","v":0.0009},{"k":143,"c":"B","v":0.0006},{"k":143,"c":"B","v":0.0003},{"k":143,"c":"B","v":0},
{"k":143,"c":"R","v":0.0087},{"k":143,"c":"R","v":0},
{"k":151,"c":"B","v":0.001},{"k":151,"c":"B","v":0},
{"k":151,"c":"R","v":0.053},{"k":151,"c":"R","v":0.013},{"k":151,"c":"R","v":0.011},{"k":151,"c":"R","v":0.009},{"k":151,"c":"R","v":0.005},{"k":151,"c":"R","v":0.004},{"k":151,"c":"R","v":0.003},{"k":151,"c":"R","v":0.002},{"k":151,"c":"R","v":0.001},{"k":151,"c":"R","v":0},
{"k":152,"c":"B","v":0.001},{"k":152,"c":"B","v":0},
{"k":152,"c":"R","v":0.0095},{"k":152,"c":"R","v":0.005},{"k":152,"c":"R","v":0.003},{"k":152,"c":"R","v":0.0015},{"k":152,"c":"R","v":0.0005},{"k":152,"c":"R","v":0},
{"k":153,"c":"B","v":0},
{"k":153,"c":"R","v":0.053},{"k":153,"c":"R","v":0.013},{"k":153,"c":"R","v":0.012},{"k":153,"c":"R","v":0.004},{"k":153,"c":"R","v":0.003},{"k":153,"c":"R","v":0.001},
{"k":161,"c":"B","v":0.0193},{"k":161,"c":"B","v":0.0187},{"k":161,"c":"B","v":0.0163},{"k":161,"c":"B","v":0.0022},{"k":161,"c":"B","v":0.0017},{"k":161,"c":"B","v":0.0013},{"k":161,"c":"B","v":0.001},{"k":161,"c":"B","v":0.0007},{"k":161,"c":"B","v":0.0004},{"k":161,"c":"B","v":0},
{"k":161,"c":"R","v":0.0018},{"k":161,"c":"R","v":0.0015},{"k":161,"c":"R","v":0.0012},{"k":161,"c":"R","v":0.0009},{"k":161,"c":"R","v":0.0006},{"k":161,"c":"R","v":0.0003},{"k":161,"c":"R","v":0},
{"k":162,"c":"B","v":0.0193},{"k":162,"c":"B","v":0.0187},{"k":162,"c":"B","v":0.0163},{"k":162,"c":"B","v":0.0017},{"k":162,"c":"B","v":0.0013},{"k":162,"c":"B","v":0.001},{"k":162,"c":"B","v":0.0007},{"k":162,"c":"B","v":0.0004},{"k":162,"c":"B","v":0},
{"k":162,"c":"R","v":0.0018},{"k":162,"c":"R","v":0.0015},{"k":162,"c":"R","v":0.0012},{"k":162,"c":"R","v":0.0009},{"k":162,"c":"R","v":0.0006},{"k":162,"c":"R","v":0.0003},{"k":162,"c":"R","v":0},
{"k":163,"c":"B","v":0.0007},{"k":163,"c":"B","v":0.0004},{"k":163,"c":"B","v":0},
{"k":163,"c":"R","v":0.0019},{"k":163,"c":"R","v":0.0008},{"k":163,"c":"R","v":0.0004},{"k":163,"c":"R","v":0},
{"k":171,"c":"B","v":0.0028},{"k":171,"c":"B","v":0.0027},{"k":171,"c":"B","v":0.0025},{"k":171,"c":"B","v":0.0024},{"k":171,"c":"B","v":0.0022},{"k":171,"c":"B","v":0.002},{"k":171,"c":"B","v":0.0019},{"k":171,"c":"B","v":0.0017},{"k":171,"c":"B","v":0.0016},{"k":171,"c":"B","v":0.0015},{"k":171,"c":"B","v":0.0013},{"k":171,"c":"B","v":0.0012},{"k":171,"c":"B","v":0.001},{"k":171,"c":"B","v":0.0009},{"k":171,"c":"B","v":0.0008},{"k":171,"c":"B","v":0.0007},{"k":171,"c":"B","v":0.0006},{"k":171,"c":"B","v":0.0005},{"k":171,"c":"B","v":0.0003},{"k":171,"c":"B","v":0},
{"k":171,"c":"R","v":0.0019},{"k":171,"c":"R","v":0.0018},{"k":171,"c":"R","v":0.0017},{"k":171,"c":"R","v":0.0015},{"k":171,"c":"R","v":0.0013},{"k":171,"c":"R","v":0.0011},{"k":171,"c":"R","v":0.0009},{"k":171,"c":"R","v":0.0008},{"k":171,"c":"R","v":0.0007},{"k":171,"c":"R","v":0.0006},{"k":171,"c":"R","v":0.0005},{"k":171,"c":"R","v":0.0004},{"k":171,"c":"R","v":0.0003},{"k":171,"c":"R","v":0.0002},{"k":171,"c":"R","v":0},
{"k":172,"c":"B","v":0.0028},{"k":172,"c":"B","v":0.0027},{"k":172,"c":"B","v":0.002},{"k":172,"c":"B","v":0.0018},{"k":172,"c":"B","v":0.0015},{"k":172,"c":"B","v":0.0012},{"k":172,"c":"B","v":0.0009},{"k":172,"c":"B","v":0.0008},{"k":172,"c":"B","v":0.0005},{"k":172,"c":"B","v":0},
{"k":172,"c":"R","v":0.00175},{"k":172,"c":"R","v":0.0015},{"k":172,"c":"R","v":0.00095},{"k":172,"c":"R","v":0.00085},{"k":172,"c":"R","v":0.0006},{"k":172,"c":"R","v":0},
{"k":173,"c":"B","v":0.0024},{"k":173,"c":"B","v":0.0023},{"k":173,"c":"B","v":0.0021},{"k":173,"c":"B","v":0.0019},{"k":173,"c":"B","v":0.0017},{"k":173,"c":"B","v":0.0015},{"k":173,"c":"B","v":0.0013},{"k":173,"c":"B","v":0.0011},{"k":173,"c":"B","v":0.001},{"k":173,"c":"B","v":0.0009},{"k":173,"c":"B","v":0.0008},{"k":173,"c":"B","v":0.0007},{"k":173,"c":"B","v":0.0005},{"k":173,"c":"B","v":0.0003},{"k":173,"c":"B","v":0},
{"k":173,"c":"R","v":0.0019},{"k":173,"c":"R","v":0.0018},{"k":173,"c":"R","v":0.0015},{"k":173,"c":"R","v":0.0011},{"k":173,"c":"R","v":0.0009},{"k":173,"c":"R","v":0.0007},{"k":173,"c":"R","v":0.0005},{"k":173,"c":"R","v":0.0003},
{"k":181,"c":"B","v":0.0069},{"k":181,"c":"B","v":0.0052},{"k":181,"c":"B","v":0.005},{"k":181,"c":"B","v":0.0047},{"k":181,"c":"B","v":0.0028},{"k":181,"c":"B","v":0.002},{"k":181,"c":"B","v":0.0006},{"k":181,"c":"B","v":0},
{"k":181,"c":"R","v":0.0021},{"k":181,"c":"R","v":0},
{"k":182,"c":"B","v":0.0056},{"k":182,"c":"B","v":0.00065},{"k":182,"c":"B","v":0},
{"k":182,"c":"R","v":0.0021},{"k":182,"c":"R","v":0},
{"k":183,"c":"B","v":0.0069},{"k":183,"c":"B","v":0.0056},{"k":183,"c":"B","v":0.005},{"k":183,"c":"B","v":0.0045},{"k":183,"c":"B","v":0.0037},{"k":183,"c":"B","v":0.0028},{"k":183,"c":"B","v":0.0019},{"k":183,"c":"B","v":0.0013},{"k":183,"c":"B","v":0.0006},{"k":183,"c":"B","v":0},{"k":183,"c":"R","v":0},
{"k":191,"c":"B","v":0.00143},{"k":191,"c":"B","v":0.00141},{"k":191,"c":"B","v":0.00107},{"k":191,"c":"B","v":0.00085},{"k":191,"c":"B","v":0.00072},{"k":191,"c":"B","v":0.0007},{"k":191,"c":"B","v":0.0006},{"k":191,"c":"B","v":0.00028},{"k":191,"c":"B","v":0.00025},{"k":191,"c":"B","v":0.00018},{"k":191,"c":"B","v":0.0001},{"k":191,"c":"B","v":0},
{"k":191,"c":"R","v":0.0009},{"k":191,"c":"R","v":0.00075},{"k":191,"c":"R","v":0.00041},{"k":191,"c":"R","v":0.00028},{"k":191,"c":"R","v":0},
{"k":192,"c":"B","v":0.00143},{"k":192,"c":"B","v":0.00107},{"k":192,"c":"B","v":0.00072},{"k":192,"c":"B","v":0.0007},{"k":192,"c":"B","v":0},
{"k":192,"c":"R","v":0.0009},{"k":192,"c":"R","v":0},
{"k":193,"c":"B","v":0.00141},{"k":193,"c":"B","v":0.00085},{"k":193,"c":"B","v":0.0006},{"k":193,"c":"B","v":0.00028},{"k":193,"c":"B","v":0.00025},{"k":193,"c":"B","v":0.00018},{"k":193,"c":"B","v":0.0001},{"k":193,"c":"B","v":0},
{"k":193,"c":"R","v":0.00075},{"k":193,"c":"R","v":0.00041},{"k":193,"c":"R","v":0.00028},{"k":193,"c":"R","v":0},
{"k":201,"c":"B","v":0.0009},{"k":201,"c":"B","v":0.00078},{"k":201,"c":"B","v":0.00072},{"k":201,"c":"B","v":0.00065},{"k":201,"c":"B","v":0.0006},{"k":201,"c":"B","v":0.00055},{"k":201,"c":"B","v":0.0005},{"k":201,"c":"B","v":0.00021},{"k":201,"c":"B","v":0.0002},{"k":201,"c":"B","v":0},
{"k":201,"c":"R","v":0.00063},{"k":201,"c":"R","v":0},
{"k":202,"c":"B","v":0.0009},{"k":202,"c":"B","v":0.00065},{"k":202,"c":"B","v":0.00053},{"k":202,"c":"B","v":0},
{"k":202,"c":"R","v":0.00063},{"k":202,"c":"R","v":0},
{"k":203,"c":"B","v":0.00072},{"k":203,"c":"B","v":0.00058},{"k":203,"c":"B","v":0.00055},{"k":203,"c":"B","v":0.0005},{"k":203,"c":"B","v":0.00021},{"k":203,"c":"B","v":0.0002},{"k":203,"c":"B","v":0},{"k":203,"c":"R","v":0},
{"k":211,"c":"B","v":0.0028},{"k":211,"c":"B","v":0.0016},{"k":211,"c":"B","v":0.0012},{"k":211,"c":"B","v":0.0009},{"k":211,"c":"B","v":0.0006},{"k":211,"c":"B","v":0.0003},{"k":211,"c":"B","v":0},
{"k":211,"c":"R","v":0.0305},{"k":211,"c":"R","v":0.024},{"k":211,"c":"R","v":0.02},{"k":211,"c":"R","v":0.019},{"k":211,"c":"R","v":0.017},{"k":211,"c":"R","v":0.0135},{"k":211,"c":"R","v":0.011},{"k":211,"c":"R","v":0.0095},{"k":211,"c":"R","v":0.007},{"k":211,"c":"R","v":0.003},{"k":211,"c":"R","v":0.001},{"k":211,"c":"R","v":0},
{"k":212,"c":"B","v":0.0028},{"k":212,"c":"B","v":0.0006},
{"k":212,"c":"R","v":0.0305},{"k":212,"c":"R","v":0.024},{"k":212,"c":"R","v":0.0195},{"k":212,"c":"R","v":0.019},{"k":212,"c":"R","v":0.017},{"k":212,"c":"R","v":0.0135},{"k":212,"c":"R","v":0.0117},{"k":212,"c":"R","v":0.009},{"k":212,"c":"R","v":0.007},{"k":212,"c":"R","v":0.003},{"k":212,"c":"R","v":0.001},{"k":212,"c":"R","v":0},
{"k":213,"c":"B","v":0.0016},{"k":213,"c":"B","v":0.0012},{"k":213,"c":"B","v":0.0009},{"k":213,"c":"B","v":0.0006},{"k":213,"c":"B","v":0.0003},{"k":213,"c":"B","v":0},
{"k":213,"c":"R","v":0.0013},{"k":213,"c":"R","v":0.0003},
{"k":221,"c":"B","v":0.0001},{"k":221,"c":"B","v":0},
{"k":221,"c":"R","v":0.0114},{"k":221,"c":"R","v":0.0107},{"k":221,"c":"R","v":0.0081},{"k":221,"c":"R","v":0.0063},{"k":221,"c":"R","v":0.0043},{"k":221,"c":"R","v":0.0015},{"k":221,"c":"R","v":0.0013},{"k":221,"c":"R","v":0.0005},{"k":221,"c":"R","v":0},
{"k":222,"c":"B","v":0},
{"k":222,"c":"R","v":0.0114},{"k":222,"c":"R","v":0.0107},{"k":222,"c":"R","v":0.0081},{"k":222,"c":"R","v":0.0072},{"k":222,"c":"R","v":0.0063},{"k":222,"c":"R","v":0.0043},{"k":222,"c":"R","v":0.0015},{"k":222,"c":"R","v":0.0013},{"k":222,"c":"R","v":0.0005},{"k":222,"c":"R","v":0},
{"k":223,"c":"B","v":0.0001},{"k":223,"c":"B","v":0},{"k":223,"c":"R","v":0},
{"k":231,"c":"B","v":0.0042},{"k":231,"c":"B","v":0.002},{"k":231,"c":"B","v":0.0018},{"k":231,"c":"B","v":0.0016},{"k":231,"c":"B","v":0.0014},{"k":231,"c":"B","v":0.0012},{"k":231,"c":"B","v":0.001},{"k":231,"c":"B","v":0.0008},{"k":231,"c":"B","v":0.0006},{"k":231,"c":"B","v":0.0004},{"k":231,"c":"B","v":0.0002},{"k":231,"c":"B","v":0},
{"k":231,"c":"R","v":0.0021},{"k":231,"c":"R","v":0.0017},{"k":231,"c":"R","v":0.0012},{"k":231,"c":"R","v":0.0009},{"k":231,"c":"R","v":0.0004},{"k":231,"c":"R","v":0.0002},{"k":231,"c":"R","v":0},
{"k":232,"c":"B","v":0.0042},{"k":232,"c":"B","v":0.002},{"k":232,"c":"B","v":0.0016},{"k":232,"c":"B","v":0.0012},{"k":232,"c":"B","v":0.0009},{"k":232,"c":"B","v":0.0006},{"k":232,"c":"B","v":0},
{"k":232,"c":"R","v":0.0021},{"k":232,"c":"R","v":0.0017},{"k":232,"c":"R","v":0.0012},{"k":232,"c":"R","v":0},
{"k":233,"c":"B","v":0.0017},{"k":233,"c":"B","v":0.0015},{"k":233,"c":"B","v":0.0012},{"k":233,"c":"B","v":0.0009},{"k":233,"c":"B","v":0.0006},{"k":233,"c":"B","v":0.0004},{"k":233,"c":"B","v":0.0002},{"k":233,"c":"B","v":0},
{"k":233,"c":"R","v":0.0009},{"k":233,"c":"R","v":0.0004},{"k":233,"c":"R","v":0.0002},{"k":233,"c":"R","v":0},
{"k":241,"c":"B","v":0.037},{"k":241,"c":"B","v":0.024},{"k":241,"c":"B","v":0},
{"k":241,"c":"R","v":0.114},{"k":241,"c":"R","v":0.032},{"k":241,"c":"R","v":0.03},{"k":241,"c":"R","v":0.02},{"k":241,"c":"R","v":0.015},{"k":241,"c":"R","v":0.01},{"k":241,"c":"R","v":0.005},{"k":241,"c":"R","v":0},
{"k":242,"c":"B","v":0.037},{"k":242,"c":"B","v":0.024},{"k":242,"c":"B","v":0},
{"k":242,"c":"R","v":0.032},{"k":242,"c":"R","v":0.03},{"k":242,"c":"R","v":0.026},{"k":242,"c":"R","v":0.02},{"k":242,"c":"R","v":0},
{"k":243,"c":"B","v":0},
{"k":243,"c":"R","v":0.114},{"k":243,"c":"R","v":0.017},{"k":243,"c":"R","v":0.016},{"k":243,"c":"R","v":0.002},{"k":243,"c":"R","v":0},
{"k":251,"c":"B","v":0.00122},{"k":251,"c":"B","v":0.0006},{"k":251,"c":"B","v":0.00043},{"k":251,"c":"B","v":0.0003},{"k":251,"c":"B","v":0.00025},{"k":251,"c":"B","v":0.0002},{"k":251,"c":"B","v":0.0001},{"k":251,"c":"B","v":0},{"k":251,"c":"R","v":0},
{"k":252,"c":"B","v":0},{"k":252,"c":"R","v":0},
{"k":253,"c":"B","v":0.00122},{"k":253,"c":"B","v":0.0006},{"k":253,"c":"B","v":0.00043},{"k":253,"c":"B","v":0.0003},{"k":253,"c":"B","v":0.00025},{"k":253,"c":"B","v":0.0002},{"k":253,"c":"B","v":0.0001},{"k":253,"c":"B","v":0},{"k":253,"c":"R","v":0},
{"k":261,"c":"B","v":0.0046},{"k":261,"c":"B","v":0.0033},{"k":261,"c":"B","v":0.0029},{"k":261,"c":"B","v":0.0011},{"k":261,"c":"B","v":0.001},{"k":261,"c":"B","v":0.0009},{"k":261,"c":"B","v":0.0008},{"k":261,"c":"B","v":0.0003},{"k":261,"c":"B","v":0.0002},{"k":261,"c":"B","v":0.0001},{"k":261,"c":"B","v":0},
{"k":261,"c":"R","v":0.00095},{"k":261,"c":"R","v":0.0003},{"k":261,"c":"R","v":0.0002},{"k":261,"c":"R","v":0.0001},{"k":261,"c":"R","v":0},
{"k":262,"c":"B","v":0.0029},{"k":262,"c":"B","v":0.0011},{"k":262,"c":"B","v":0.001},{"k":262,"c":"B","v":0.0009},{"k":262,"c":"B","v":0},
{"k":262,"c":"R","v":0.00095},{"k":262,"c":"R","v":0},
{"k":263,"c":"B","v":0.0046},{"k":263,"c":"B","v":0.0033},{"k":263,"c":"B","v":0.0011},{"k":263,"c":"B","v":0.001},{"k":263,"c":"B","v":0.0009},{"k":263,"c":"B","v":0.0008},{"k":263,"c":"B","v":0.0003},{"k":263,"c":"B","v":0.0002},{"k":263,"c":"B","v":0.0001},{"k":263,"c":"B","v":0},
{"k":263,"c":"R","v":0.0003},{"k":263,"c":"R","v":0.0002},{"k":263,"c":"R","v":0.0001},{"k":263,"c":"R","v":0},
{"k":271,"c":"B","v":0},
{"k":271,"c":"R","v":0.039},{"k":271,"c":"R","v":0.009},{"k":271,"c":"R","v":0.0075},{"k":271,"c":"R","v":0.0065},{"k":271,"c":"R","v":0.005},{"k":271,"c":"R","v":0.004},{"k":271,"c":"R","v":0.003},{"k":271,"c":"R","v":0.002},{"k":271,"c":"R","v":0.001},{"k":271,"c":"R","v":0},
{"k":272,"c":"B","v":0},
{"k":272,"c":"R","v":0.007},{"k":272,"c":"R","v":0.004},{"k":272,"c":"R","v":0.003},{"k":272,"c":"R","v":0.002},{"k":272,"c":"R","v":0.001},{"k":272,"c":"R","v":0.0005},{"k":272,"c":"R","v":0},
{"k":273,"c":"B","v":0},
{"k":273,"c":"R","v":0.039},{"k":273,"c":"R","v":0.009},{"k":273,"c":"R","v":0.0075},{"k":273,"c":"R","v":0.0065},{"k":273,"c":"R","v":0.005},{"k":273,"c":"R","v":0.003},{"k":273,"c":"R","v":0.001},{"k":273,"c":"R","v":0},
{"k":281,"c":"B","v":0.0033},{"k":281,"c":"B","v":0.0016},{"k":281,"c":"B","v":0.0012},{"k":281,"c":"B","v":0.0008},{"k":281,"c":"B","v":0.0005},{"k":281,"c":"B","v":0.0003},{"k":281,"c":"B","v":0},
{"k":281,"c":"R","v":0.0073},{"k":281,"c":"R","v":0.0007},{"k":281,"c":"R","v":0.0003},{"k":281,"c":"R","v":0},
{"k":282,"c":"B","v":0.0033},{"k":282,"c":"B","v":0.0016},{"k":282,"c":"B","v":0.0012},{"k":282,"c":"B","v":0.001},{"k":282,"c":"B","v":0.0008},{"k":282,"c":"B","v":0.0004},{"k":282,"c":"B","v":0},
{"k":282,"c":"R","v":0.0073},{"k":282,"c":"R","v":0},
{"k":283,"c":"B","v":0.0007},{"k":283,"c":"B","v":0},
{"k":283,"c":"R","v":0.0006},{"k":283,"c":"R","v":0.0003},{"k":283,"c":"R","v":0},
{"k":291,"c":"B","v":0.001},{"k":291,"c":"B","v":0},
{"k":291,"c":"R","v":0.053},{"k":291,"c":"R","v":0.013},{"k":291,"c":"R","v":0.012},{"k":291,"c":"R","v":0.011},{"k":291,"c":"R","v":0.009},{"k":291,"c":"R","v":0.005},{"k":291,"c":"R","v":0.004},{"k":291,"c":"R","v":0.003},{"k":291,"c":"R","v":0.002},{"k":291,"c":"R","v":0.001},{"k":291,"c":"R","v":0},
{"k":292,"c":"B","v":0.001},{"k":292,"c":"B","v":0},
{"k":292,"c":"R","v":0.0095},{"k":292,"c":"R","v":0.005},{"k":292,"c":"R","v":0.003},{"k":292,"c":"R","v":0.002},{"k":292,"c":"R","v":0.001},{"k":292,"c":"R","v":0},
{"k":293,"c":"B","v":0},
{"k":293,"c":"R","v":0.053},{"k":293,"c":"R","v":0.013},{"k":293,"c":"R","v":0.012},{"k":293,"c":"R","v":0.011},{"k":293,"c":"R","v":0.008},{"k":293,"c":"R","v":0.004},{"k":293,"c":"R","v":0.003},{"k":293,"c":"R","v":0.001},{"k":293,"c":"R","v":0},
{"k":301,"c":"B","v":0.0165},{"k":301,"c":"B","v":0.0135},{"k":301,"c":"B","v":0.0125},{"k":301,"c":"B","v":0.008},{"k":301,"c":"B","v":0.0045},{"k":301,"c":"B","v":0.0035},{"k":301,"c":"B","v":0.0027},{"k":301,"c":"B","v":0.002},{"k":301,"c":"B","v":0.0014},{"k":301,"c":"B","v":0.0009},{"k":301,"c":"B","v":0.0005},{"k":301,"c":"B","v":0},
{"k":301,"c":"R","v":0.0042},{"k":301,"c":"R","v":0.0018},{"k":301,"c":"R","v":0.0015},{"k":301,"c":"R","v":0.0012},{"k":301,"c":"R","v":0.0009},{"k":301,"c":"R","v":0.0006},{"k":301,"c":"R","v":0.0003},{"k":301,"c":"R","v":0},
{"k":302,"c":"B","v":0.0165},{"k":302,"c":"B","v":0.0135},{"k":302,"c":"B","v":0.0125},{"k":302,"c":"B","v":0.008},{"k":302,"c":"B","v":0.0045},{"k":302,"c":"B","v":0.0027},{"k":302,"c":"B","v":0.0006},{"k":302,"c":"B","v":0},
{"k":302,"c":"R","v":0.0042},{"k":302,"c":"R","v":0.0014},{"k":302,"c":"R","v":0.001},{"k":302,"c":"R","v":0.0006},{"k":302,"c":"R","v":0.0003},{"k":302,"c":"R","v":0},
{"k":303,"c":"B","v":0.0045},{"k":303,"c":"B","v":0.0012},{"k":303,"c":"B","v":0.001},{"k":303,"c":"B","v":0.0008},{"k":303,"c":"B","v":0.0006},{"k":303,"c":"B","v":0.0003},
{"k":303,"c":"R","v":0.0018},{"k":303,"c":"R","v":0.0006},{"k":303,"c":"R","v":0.0003},{"k":303,"c":"R","v":0}
]},
"data":{"name":"d"},
"transform":[{"lookup":"k","from":{"data":{"name":"g"},"key":"k","fields":["i","t","x"]}}],
"facet":{"field":"t","type":"nominal","sort":{"field":"i","op":"min"},"header":{"title":null,"labelFontSize":6.8,"labelPadding":1,"labelColor":"#111"}},
"columns":5,
"spacing":{"row":42,"column":45},
"bounds":"flush",
"resolve":{"scale":{"x":"independent","y":"independent","xOffset":"independent"}},
"spec":{
"width":101,"height":84,
"layer":[
{"layer":[
{"transform":[{"filter":"isValid(datum.q1)"}],
"mark":{"type":"rule","strokeDash":[2,1.5],"strokeWidth":0.7,"color":"#333"},
"encoding":{
"x":{"field":"x","type":"nominal","scale":{"paddingInner":0.3333,"paddingOuter":0},"axis":{"orient":"bottom","title":null,"ticks":false,"domain":false,"labelAngle":0,"labelPadding":2,"labelFontSize":6.8,"labelLineHeight":8.5,"labelOverlap":false,"labelBaseline":"top","labelExpr":"[(length(split(datum.value,'|')[2])<2?'\u2007':'')+split(datum.value,'|')[2]+'\u2007\u2009'+split(datum.value,'|')[3]+(length(split(datum.value,'|')[3])<2?'\u2007':''), split(datum.value,'|')[1]]"}},
"xOffset":{"field":"c","type":"nominal","scale":{"paddingInner":0.2,"paddingOuter":0.1}},
"y":{"field":"lo","type":"quantitative","scale":{"zero":false,"nice":false,"padding":3.1},"axis":{"title":null}},
"y2":{"field":"hi"}}},
{"transform":[{"filter":"isValid(datum.q1)"}],
"mark":{"type":"bar","stroke":"#333","strokeWidth":0.7},
"encoding":{
"x":{"field":"x","type":"nominal","axis":{"orient":"top","title":["p value =","effect size ="],"titleFontSize":4.5,"titleFontWeight":"normal","titleLineHeight":5,"titleAngle":0,"titleAlign":"right","titleBaseline":"bottom","titleX":-2,"titleY":-2,"ticks":false,"domain":false,"labelAngle":0,"labelFontSize":4.5,"labelLineHeight":5,"labelPadding":2,"labelOverlap":false,"labelExpr":"[split(datum.value,'|')[4], split(datum.value,'|')[5]]"}},
"xOffset":{"field":"c","type":"nominal"},
"y":{"field":"q1","type":"quantitative","axis":{"title":null}},
"y2":{"field":"q3"},
"fill":{"field":"c","type":"nominal","scale":{"domain":["B","R"],"range":["#7EC8E6","#EA716A"]},"legend":null}}},
{"transform":[{"filter":"isValid(datum.q1)"}],
"mark":{"type":"tick","orient":"horizontal","size":5,"thickness":0.8,"color":"#333"},
"encoding":{"x":{"field":"x","type":"nominal","axis":null},"xOffset":{"field":"c","type":"nominal"},"y":{"field":"hi","type":"quantitative","axis":{"title":null}}}},
{"transform":[{"filter":"isValid(datum.q1)"}],
"mark":{"type":"tick","orient":"horizontal","size":5,"thickness":0.8,"color":"#333"},
"encoding":{"x":{"field":"x","type":"nominal","axis":null},"xOffset":{"field":"c","type":"nominal"},"y":{"field":"lo","type":"quantitative","axis":{"title":null}}}},
{"transform":[{"filter":"isValid(datum.q1)"}],
"mark":{"type":"tick","orient":"horizontal","size":10,"thickness":2,"color":"#000"},
"encoding":{"x":{"field":"x","type":"nominal","axis":null},"xOffset":{"field":"c","type":"nominal"},"y":{"field":"m","type":"quantitative","axis":{"title":null}}}},
{"transform":[{"filter":"isValid(datum.v)"}],
"mark":{"type":"point","filled":true,"size":8,"opacity":1},
"encoding":{"x":{"field":"x","type":"nominal","axis":null},"xOffset":{"field":"c","type":"nominal"},"y":{"field":"v","type":"quantitative","axis":{"title":null}},
"color":{"field":"c","type":"nominal","scale":{"domain":["B","R"],"range":["#253F8E","#E52B2B"]},"legend":null}}}
],"resolve":{"axis":{"x":"independent"}}},
{"transform":[{"filter":"isValid(datum.q1)"}],
"mark":{"type":"point","opacity":0},
"encoding":{"y":{"field":"t","type":"nominal","axis":{"orient":"left","offset":15,"title":null,"ticks":false,"domain":false,"labelAngle":-90,"labelAlign":"center","labelBaseline":"bottom","labelFontSize":5.5,"labelPadding":0,"labelExpr":"'Freq. of  ' + split(datum.value,' ')[1] + '  (%)'"}}}}
],
"resolve":{"scale":{"y":"independent"}}
},
"config":{
"font":"Liberation Sans",
"view":{"stroke":"#555","strokeWidth":0.8},
"axis":{"grid":false,"labelColor":"#111","titleColor":"#111","tickColor":"#333","domain":false},
"axisY":{"tickCount":5.45,"labelFontSize":6,"tickSize":3,"tickWidth":0.6,"labelPadding":1.5}
}
}
